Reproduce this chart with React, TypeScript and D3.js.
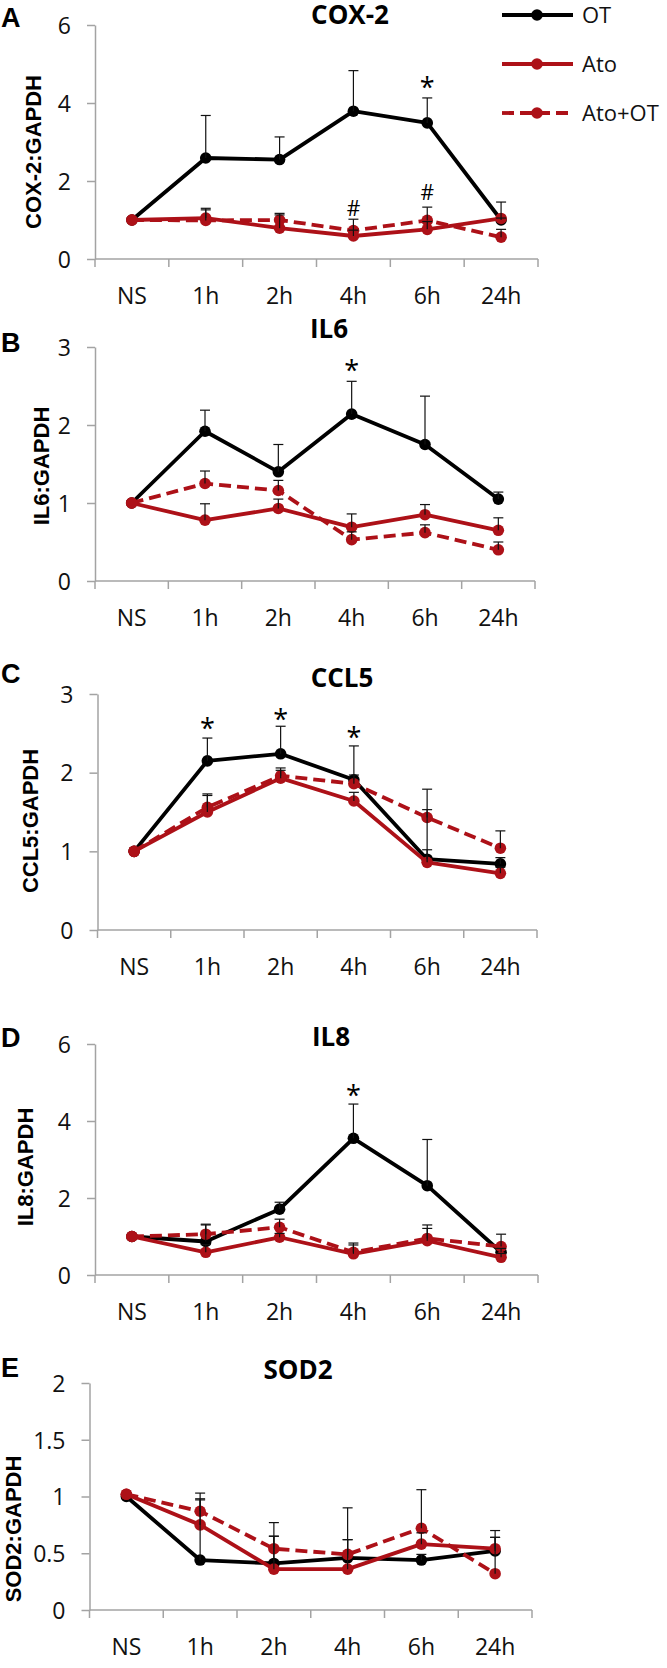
import { useEffect, useRef } from 'react';
import * as d3 from 'd3';

const categories = ['NS', '1h', '2h', '4h', '6h', '24h'];
const seriesNames = ['OT', 'Ato', 'Ato+OT'];

// A  COX-2
const coxOT = [1.0, 2.59, 2.55, 3.79, 3.49, 1.0];
const coxOTErr = [0, 1.09, 0.58, 1.04, 0.64, 0.05];
const coxAto = [1.0, 1.05, 0.79, 0.59, 0.76, 1.04];
const coxAtoErr = [0, 0.25, 0.34, 0.15, 0.2, 0.42];
const coxAtoOT = [1.0, 0.99, 1.0, 0.73, 0.99, 0.56];
const coxAtoOTErr = [0, 0.27, 0.17, 0.29, 0.34, 0.2];
const coxMarkCats = ['6h', '4h', '6h'];
const coxMarkVals = [4.56, 1.3, 1.71];
const coxMarkSyms = ['*', '#', '#'];

// B  IL6
const il6OT = [1.0, 1.92, 1.4, 2.14, 1.75, 1.05];
const il6OTErr = [0, 0.27, 0.35, 0.42, 0.62, 0.09];
const il6Ato = [1.0, 0.78, 0.93, 0.69, 0.85, 0.65];
const il6AtoErr = [0, 0.21, 0.12, 0.17, 0.13, 0.16];
const il6AtoOT = [1.0, 1.25, 1.16, 0.53, 0.62, 0.4];
const il6AtoOTErr = [0, 0.16, 0.13, 0.1, 0.1, 0.1];
const il6MarkCats = ['4h'];
const il6MarkVals = [2.78];
const il6MarkSyms = ['*'];

// C  CCL5
const ccl5OT = [1.0, 2.15, 2.24, 1.91, 0.9, 0.84];
const ccl5OTErr = [0, 0.29, 0.35, 0.43, 0.12, 0.08];
const ccl5Ato = [1.0, 1.5, 1.93, 1.64, 0.86, 0.72];
const ccl5AtoErr = [0, 0.21, 0.1, 0.11, 0.67, 0.08];
const ccl5AtoOT = [1.0, 1.56, 1.96, 1.86, 1.43, 1.04];
const ccl5AtoOTErr = [0, 0.17, 0.1, 0.11, 0.36, 0.22];
const ccl5MarkCats = ['1h', '2h', '4h'];
const ccl5MarkVals = [2.64, 2.75, 2.52];
const ccl5MarkSyms = ['*', '*', '*'];

// D  IL8
const il8OT = [1.0, 0.87, 1.71, 3.55, 2.32, 0.59];
const il8OTErr = [0, 0.43, 0.18, 0.89, 1.2, 0.1];
const il8Ato = [1.0, 0.59, 0.98, 0.55, 0.89, 0.46];
const il8AtoErr = [0, 0.2, 0.1, 0.23, 0.32, 0.1];
const il8AtoOT = [1.0, 1.06, 1.24, 0.59, 0.95, 0.74];
const il8AtoOTErr = [0, 0.26, 0.21, 0.24, 0.35, 0.32];
const il8MarkCats = ['4h'];
const il8MarkVals = [4.83];
const il8MarkSyms = ['*'];

// E  SOD2
const sod2OT = [1.0, 0.44, 0.41, 0.46, 0.44, 0.52];
const sod2OTErr = [0, 0.54, 0.24, 0.44, 0.05, 0.12];
const sod2Ato = [1.02, 0.75, 0.36, 0.36, 0.58, 0.54];
const sod2AtoErr = [0, 0.22, 0.29, 0.26, 0.1, 0.1];
const sod2AtoOT = [1.02, 0.87, 0.54, 0.49, 0.72, 0.32];
const sod2AtoOTErr = [0, 0.16, 0.23, 0.13, 0.34, 0.38];

const ticks6 = [0, 2, 4, 6];
const ticks3 = [0, 1, 2, 3];
const ticks2 = [0, 0.5, 1, 1.5, 2];

const RED = '#ad1118';
const AXIS = '#a3a3a3';
const SANS = '"Open Sans", Lato, sans-serif';
const ARIAL = '"Liberation Sans", Arial, sans-serif';

const styles = [
  { color: '#000', dash: null },
  { color: RED, dash: null },
  { color: RED, dash: '12,6' },
];

const panels = [
  {
    letter: 'A', title: 'COX-2', yTitle: 'COX-2:GAPDH', yMax: 6, ticks: ticks6,
    series: [coxOT, coxAto, coxAtoOT], errs: [coxOTErr, coxAtoErr, coxAtoOTErr],
    marks: { cats: coxMarkCats, vals: coxMarkVals, syms: coxMarkSyms },
    left: 95, right: 538, top: 25, bottom: 259,
    titleX: 350, titleY: 15, letterY: 17, yTitleX: 33, yTitleY: 152,
  },
  {
    letter: 'B', title: 'IL6', yTitle: 'IL6:GAPDH', yMax: 3, ticks: ticks3,
    series: [il6OT, il6Ato, il6AtoOT], errs: [il6OTErr, il6AtoErr, il6AtoOTErr],
    marks: { cats: il6MarkCats, vals: il6MarkVals, syms: il6MarkSyms },
    left: 95, right: 535, top: 347, bottom: 581,
    titleX: 329, titleY: 329, letterY: 342, yTitleX: 41, yTitleY: 466,
  },
  {
    letter: 'C', title: 'CCL5', yTitle: 'CCL5:GAPDH', yMax: 3, ticks: ticks3,
    series: [ccl5OT, ccl5Ato, ccl5AtoOT], errs: [ccl5OTErr, ccl5AtoErr, ccl5AtoOTErr],
    marks: { cats: ccl5MarkCats, vals: ccl5MarkVals, syms: ccl5MarkSyms },
    left: 97.5, right: 537, top: 694, bottom: 930,
    titleX: 342, titleY: 678, letterY: 673, yTitleX: 30, yTitleY: 821,
  },
  {
    letter: 'D', title: 'IL8', yTitle: 'IL8:GAPDH', yMax: 6, ticks: ticks6,
    series: [il8OT, il8Ato, il8AtoOT], errs: [il8OTErr, il8AtoErr, il8AtoOTErr],
    marks: { cats: il8MarkCats, vals: il8MarkVals, syms: il8MarkSyms },
    left: 95, right: 538, top: 1044, bottom: 1275,
    titleX: 331, titleY: 1037, letterY: 1037, yTitleX: 25, yTitleY: 1167,
  },
  {
    letter: 'E', title: 'SOD2', yTitle: 'SOD2:GAPDH', yMax: 2, ticks: ticks2,
    series: [sod2OT, sod2Ato, sod2AtoOT], errs: [sod2OTErr, sod2AtoErr, sod2AtoOTErr],
    marks: null,
    left: 89.5, right: 532, top: 1383, bottom: 1610,
    titleX: 298, titleY: 1370, letterY: 1367, yTitleX: 13, yTitleY: 1529,
  },
];

export default function App() {
  const svgRef = useRef<SVGSVGElement>(null);

  useEffect(() => {
    if (!svgRef.current) return;
    const svg = d3.select(svgRef.current);
    svg.selectAll('*').remove();

    panels.forEach((p) => {
      const x = d3.scaleBand().domain(categories).range([p.left, p.right]);
      const cx = (c: string) => (x(c) as number) + x.bandwidth() / 2;
      const y = d3.scaleLinear().domain([0, p.yMax]).range([p.bottom, p.top]);
      const g = svg.append('g');

      // y axis
      const yAxis = g.append('g')
        .attr('transform', `translate(${p.left},0)`)
        .call(d3.axisLeft(y).tickValues(p.ticks).tickSize(8).tickSizeOuter(0).tickPadding(16)
          .tickFormat((d) => String(d)));
      yAxis.select('.domain').attr('stroke', AXIS).attr('stroke-width', 1.5);
      yAxis.selectAll('.tick line').attr('stroke', AXIS).attr('stroke-width', 1.5);
      yAxis.selectAll('.tick text')
        .attr('font-family', SANS).attr('font-size', 23).attr('fill', '#111').attr('dy', '0.36em');

      // x axis: labels centred, ticks between categories
      const xAxis = g.append('g')
        .attr('transform', `translate(0,${p.bottom})`)
        .call(d3.axisBottom(x).tickSize(0).tickPadding(29));
      xAxis.select('.domain').remove();
      xAxis.selectAll('.tick text').attr('font-family', SANS).attr('font-size', 23).attr('fill', '#111');
      g.append('line')
        .attr('x1', p.left).attr('x2', p.right)
        .attr('y1', p.bottom).attr('y2', p.bottom)
        .attr('stroke', AXIS).attr('stroke-width', 1.5);
      const bounds = categories.map((c) => x(c) as number).concat([p.right]);
      g.selectAll('line.xb').data(bounds).join('line')
        .attr('class', 'xb')
        .attr('x1', (d) => d).attr('x2', (d) => d)
        .attr('y1', p.bottom).attr('y2', p.bottom + 8)
        .attr('stroke', AXIS).attr('stroke-width', 1.5);

      // titles
      g.append('text')
        .attr('x', p.titleX).attr('y', p.titleY + 0.36 * 26)
        .attr('text-anchor', 'middle')
        .attr('font-family', SANS).attr('font-weight', 'bold').attr('font-size', 26)
        .text(p.title);
      g.append('text')
        .attr('x', 1).attr('y', p.letterY + 0.36 * 27)
        .attr('font-family', ARIAL).attr('font-weight', 'bold').attr('font-size', 27)
        .text(p.letter);
      g.append('text')
        .attr('transform', `translate(${p.yTitleX},${p.yTitleY}) rotate(-90)`)
        .attr('y', 0.36 * 22)
        .attr('text-anchor', 'middle')
        .attr('font-family', ARIAL).attr('font-weight', 'bold').attr('font-size', 22)
        .text(p.yTitle);

      // series
      const line = d3.line<number>()
        .x((_, i) => cx(categories[i]))
        .y((d) => y(d));

      p.series.forEach((vals, si) => {
        const st = styles[si];
        g.append('path')
          .datum(vals)
          .attr('fill', 'none')
          .attr('stroke', st.color)
          .attr('stroke-width', 3.8)
          .attr('stroke-linejoin', 'round')
          .attr('stroke-dasharray', st.dash)
          .attr('d', line);
        g.selectAll(`circle.s${si}`).data(vals).join('circle')
          .attr('class', `s${si}`)
          .attr('cx', (_, i) => cx(categories[i]))
          .attr('cy', (d) => y(d))
          .attr('r', 5.8)
          .attr('fill', st.color);
      });

      // error bars on top
      p.series.forEach((vals, si) => {
        const errs = p.errs[si];
        vals.forEach((v, i) => {
          if (!errs[i]) return;
          const xc = cx(categories[i]);
          const y0 = y(v);
          const y1 = y(v + errs[i]);
          g.append('line')
            .attr('x1', xc).attr('x2', xc).attr('y1', y0).attr('y2', y1)
            .attr('stroke', '#111').attr('stroke-width', 1.2);
          g.append('line')
            .attr('x1', xc - 5).attr('x2', xc + 5).attr('y1', y1).attr('y2', y1)
            .attr('stroke', '#111').attr('stroke-width', 1.2);
        });
      });

      // significance marks
      if (p.marks) {
        const m = p.marks;
        m.cats.forEach((c, i) => {
          const sym = m.syms[i];
          const fs = sym === '*' ? 27 : 21;
          const off = sym === '*' ? 0.58 * fs : 0.36 * fs;
          g.append('text')
            .attr('x', cx(c)).attr('y', y(m.vals[i]) + off)
            .attr('text-anchor', 'middle')
            .attr('font-family', SANS).attr('font-size', fs)
            .text(sym);
        });
      }
    });

    // legend (panel A)
    const legendY = [15, 64, 113];
    const lg = svg.append('g');
    seriesNames.forEach((name, i) => {
      const st = styles[i];
      lg.append('line')
        .attr('x1', 502).attr('x2', 573).attr('y1', legendY[i]).attr('y2', legendY[i])
        .attr('stroke', st.color).attr('stroke-width', 3.8)
        .attr('stroke-dasharray', st.dash);
      lg.append('circle')
        .attr('cx', 537).attr('cy', legendY[i]).attr('r', 5.8).attr('fill', st.color);
      lg.append('text')
        .attr('x', 582).attr('y', legendY[i] + 0.36 * 22)
        .attr('font-family', SANS).attr('font-size', 22).attr('fill', '#111')
        .text(name);
    });
  }, []);

  return (
    <svg
      ref={svgRef}
      width={667}
      height={1668}
      style={{ position: 'absolute', left: 0, top: 0, background: '#fff' }}
    />
  );
}
